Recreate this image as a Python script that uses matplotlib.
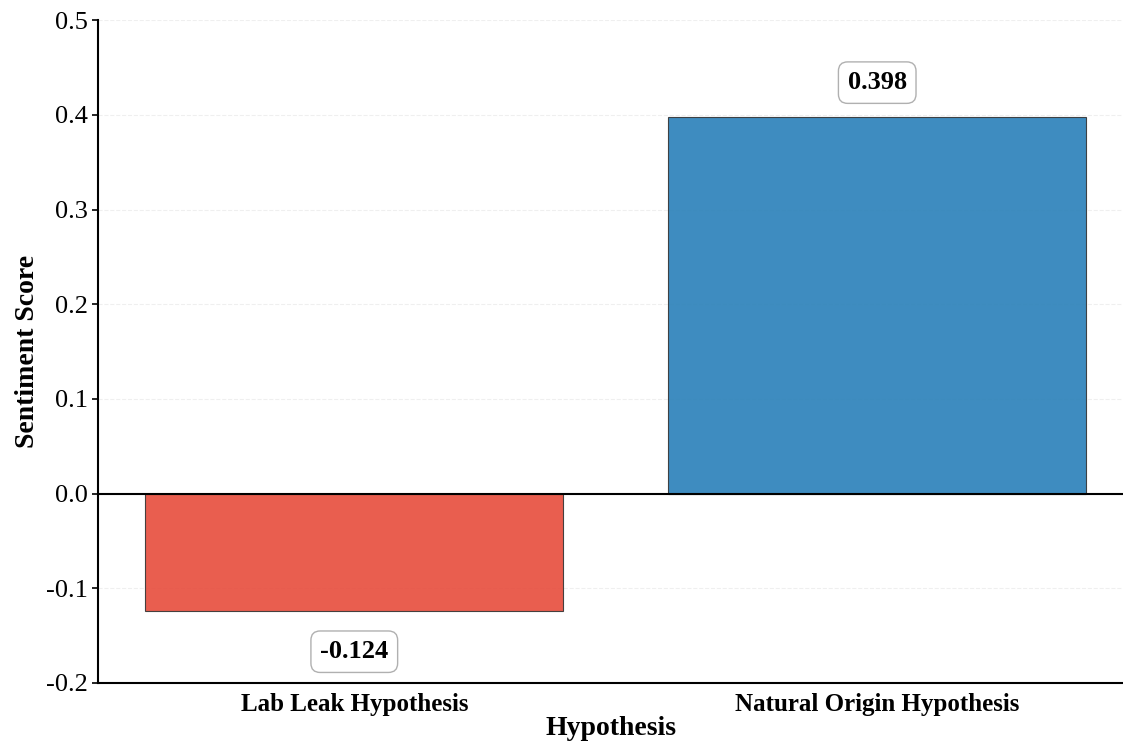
import matplotlib.pyplot as plt

hypotheses = ['Lab Leak Hypothesis', 'Natural Origin Hypothesis']
scores = [-0.124, 0.398]
colors = ['#e74c3c', '#2980b9']

plt.rcParams['font.family'] = ['Liberation Serif', 'DejaVu Serif']
plt.rcParams['axes.unicode_minus'] = False

fig = plt.figure(figsize=(11.23, 7.46), dpi=100)
ax = fig.add_axes([0.0873, 0.0845, 0.9127, 0.8885])

x = range(len(hypotheses))
ax.bar(x, scores, width=0.8, color=colors, alpha=0.9, edgecolor='#333333', linewidth=0.8, zorder=3)
ax.axhline(0, color='black', linewidth=1.5, zorder=4)

for i, v in enumerate(scores):
    off = 0.036 if v > 0 else -0.043
    ax.text(i, v + off, f'{v:.3f}', ha='center', va='center', fontsize=19, fontweight='bold',
            bbox=dict(boxstyle='round,pad=0.35', facecolor='white', edgecolor='#b0b0b0', linewidth=1))

ax.set_xticks(list(x))
ax.set_xticklabels(hypotheses, fontsize=18, fontweight='bold')
ax.tick_params(axis='x', length=0, pad=7)
ax.tick_params(axis='y', labelsize=19, length=4, width=1.2)
ax.set_ylim(-0.2, 0.5)
ax.set_xlim(-0.49, 1.47)
ax.set_xlabel('Hypothesis', fontsize=20, fontweight='bold', labelpad=0)
ax.set_ylabel('Sentiment Score', fontsize=20, fontweight='bold')
ax.yaxis.grid(True, linestyle='--', alpha=0.3, color='#cccccc')
ax.set_axisbelow(True)
ax.spines['top'].set_visible(False)
ax.spines['right'].set_visible(False)
ax.spines['left'].set_linewidth(1.5)
ax.spines['bottom'].set_linewidth(1.5)

fig.savefig('out.png', dpi=100)
